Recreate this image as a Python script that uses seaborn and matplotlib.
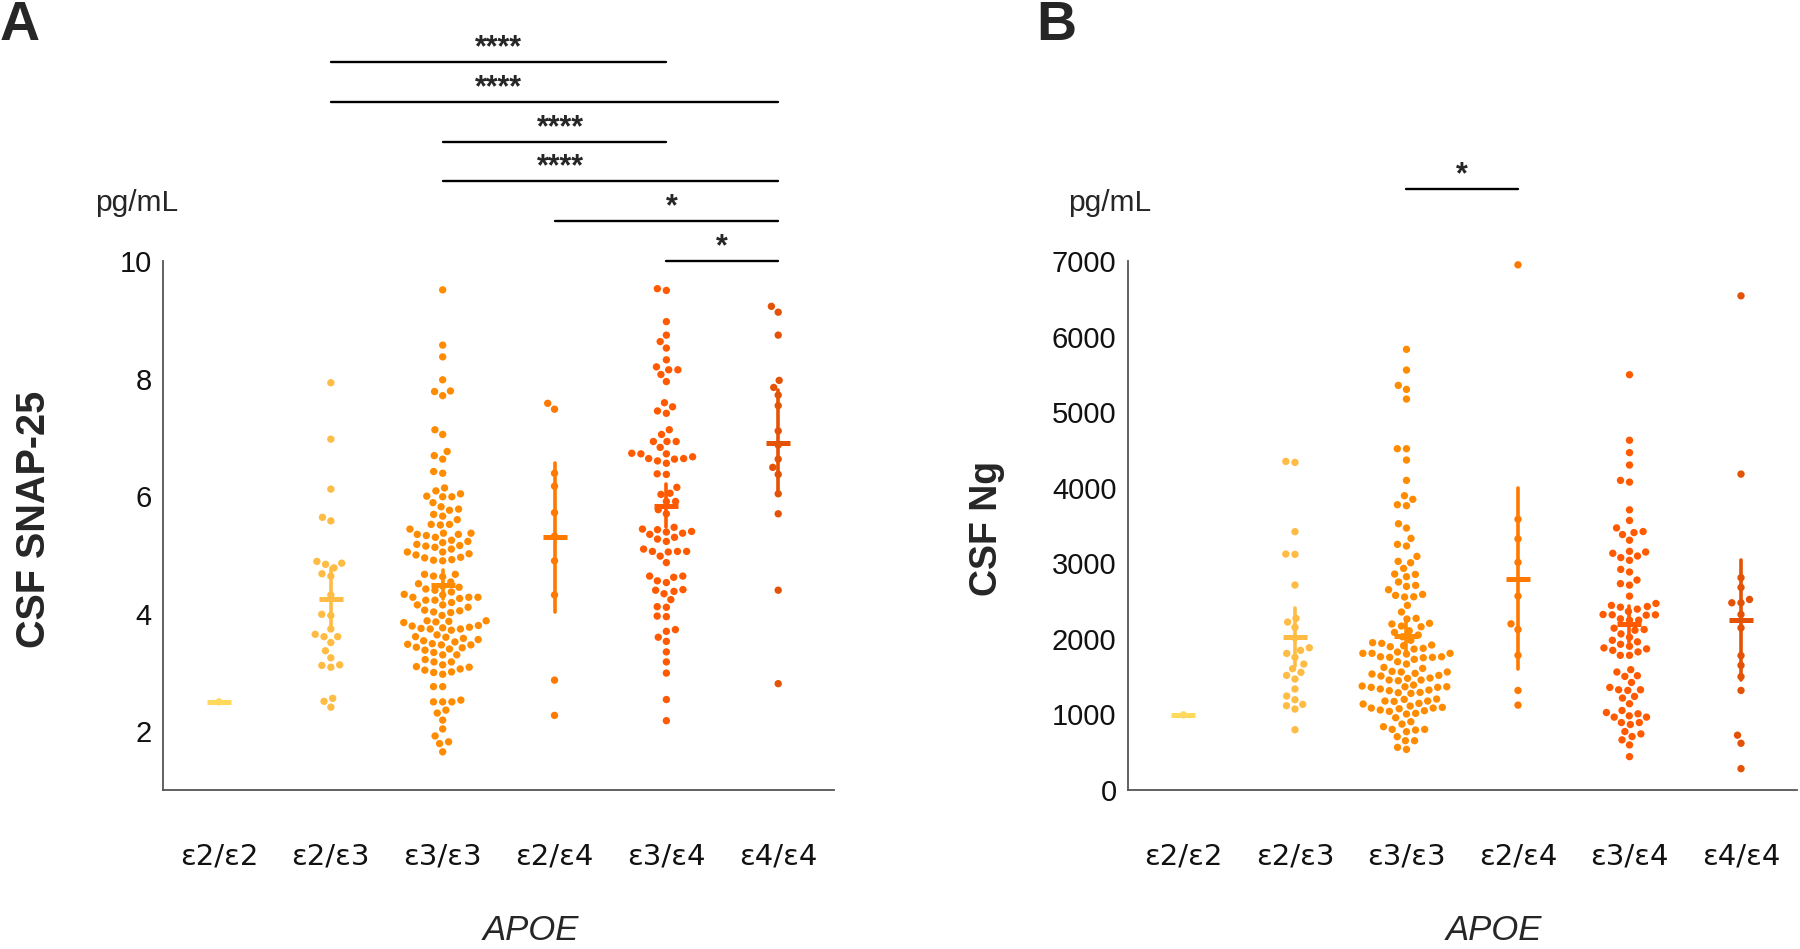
import numpy as np
import pandas as pd
import matplotlib
matplotlib.use('Agg')
import matplotlib.pyplot as plt
import seaborn as sns

sns.set_style('white')
plt.rcParams['font.family'] = ['Liberation Sans', 'DejaVu Sans']

# genotypes and colours
genos = ['ε2/ε2', 'ε2/ε3', 'ε3/ε3', 'ε2/ε4', 'ε3/ε4', 'ε4/ε4']
colors = ['#FFD95C', '#FFBC45', '#FF8C00', '#FF7800', '#FF5A00', '#E35205']

# panel A: CSF SNAP-25 (pg/mL)
snap_e22 = [2.50]
snap_e23 = [7.93, 6.97, 6.12, 5.64, 5.58, 4.89, 4.86, 4.84, 4.78, 4.68, 4.64, 4.32, 3.99,
            3.97, 3.74, 3.65, 3.61, 3.61, 3.51, 3.37, 3.25, 3.13, 3.12, 3.09, 2.56, 2.51, 2.41]
snap_e33 = [9.51, 8.57, 8.37, 7.98, 7.78, 7.79, 7.71, 7.13, 7.05, 6.76, 6.69, 6.63, 6.42, 6.39,
            6.14, 6.09, 6.04, 5.99, 5.99, 6.00, 5.89, 5.82, 5.78, 5.76, 5.69, 5.66, 5.60, 5.52,
            5.51, 5.52, 5.44, 5.37, 5.35, 5.35, 5.37, 5.33, 5.30, 5.25, 5.23, 5.21, 5.18, 5.16,
            5.15, 5.13, 5.10, 5.05, 5.05, 5.02, 5.00, 4.96, 4.95, 4.92, 4.91, 4.90, 4.67, 4.67,
            4.64, 4.63, 4.54, 4.51, 4.47, 4.45, 4.42, 4.40, 4.37, 4.33, 4.32, 4.28, 4.28, 4.28,
            4.26, 4.23, 4.23, 4.19, 4.15, 4.15, 4.11, 4.06, 4.03, 4.02, 4.05, 3.97, 3.88, 3.88,
            3.87, 3.86, 3.85, 3.80, 3.79, 3.77, 3.76, 3.74, 3.75, 3.74, 3.72, 3.64, 3.61, 3.60,
            3.58, 3.56, 3.54, 3.52, 3.49, 3.48, 3.47, 3.47, 3.43, 3.42, 3.40, 3.38, 3.34, 3.30,
            3.30, 3.22, 3.18, 3.18, 3.13, 3.10, 3.06, 3.09, 3.04, 3.01, 3.00, 2.97, 2.76, 2.76,
            2.53, 2.50, 2.50, 2.50, 2.36, 2.31, 2.19, 2.04, 1.92, 1.82, 1.79, 1.65]
snap_e24 = [7.58, 7.48, 6.39, 6.17, 5.72, 5.32, 4.90, 4.32, 2.87, 2.27]
snap_e34 = [9.53, 9.50, 8.97, 8.74, 8.63, 8.52, 8.32, 8.20, 8.15, 8.15, 8.07, 7.95, 7.59, 7.52,
            7.45, 7.41, 7.13, 7.05, 6.93, 6.93, 6.93, 6.83, 6.72, 6.72, 6.73, 6.67, 6.63, 6.64,
            6.64, 6.60, 6.56, 6.38, 6.37, 6.15, 6.05, 6.03, 5.91, 5.91, 5.77, 5.70, 5.47, 5.43,
            5.44, 5.40, 5.39, 5.37, 5.35, 5.30, 5.27, 5.23, 5.10, 5.06, 5.06, 5.06, 5.05, 4.98,
            4.87, 4.64, 4.64, 4.62, 4.56, 4.53, 4.41, 4.38, 4.40, 4.34, 4.24, 4.11, 4.12, 3.96,
            3.95, 3.73, 3.70, 3.60, 3.53, 3.35, 3.18, 2.99, 2.54, 2.18]
snap_e44 = [9.23, 9.13, 8.74, 7.97, 7.85, 7.72, 7.54, 7.11, 6.87, 6.63, 6.49, 6.37, 6.04, 5.70,
            4.40, 2.81]

# panel B: CSF Ng (pg/mL)
ng_e22 = [995]
ng_e23 = [4336, 4349, 3419, 3123, 3119, 2713, 2272, 2223, 2153, 2016, 1848, 1883, 1808, 1756,
          1667, 1606, 1517, 1557, 1469, 1337, 1244, 1195, 1116, 1134, 1072, 798]
ng_e33 = [5832, 5558, 5355, 5302, 5174, 4517, 4517, 4367, 4098, 3895, 3847, 3776, 3763, 3524,
          3467, 3330, 3251, 3229, 3092, 3026, 3008, 2933, 2858, 2854, 2823, 2753, 2708, 2695,
          2651, 2589, 2576, 2554, 2558, 2444, 2356, 2272, 2263, 2206, 2197, 2161, 2170, 2108,
          2086, 2051, 2029, 1981, 1950, 1941, 1919, 1910, 1897, 1875, 1866, 1826, 1809, 1809,
          1809, 1800, 1764, 1751, 1756, 1764, 1756, 1729, 1698, 1667, 1623, 1610, 1570, 1562,
          1562, 1544, 1535, 1517, 1509, 1482, 1478, 1456, 1456, 1447, 1390, 1376, 1367, 1367,
          1359, 1359, 1337, 1323, 1315, 1292, 1279, 1288, 1200, 1204, 1178, 1173, 1178, 1147,
          1138, 1112, 1094, 1085, 1085, 1076, 1059, 1050, 1041, 1015, 1006, 957, 873, 838, 904,
          794, 803, 772, 803, 706, 653, 653, 565, 538]
ng_e24 = [6950, 3584, 3323, 3013, 2566, 2199, 2124, 1783, 1318, 1124]
ng_e34 = [5496, 4629, 4465, 4301, 4098, 4075, 3708, 3567, 3469, 3407, 3421, 3381, 3306, 3150,
          3097, 3076, 3133, 3159, 3040, 2885, 2920, 2779, 2731, 2712, 2566, 2443, 2429, 2394,
          2420, 2469, 2363, 2319, 2323, 2319, 2314, 2266, 2248, 2248, 2142, 2124, 2115, 2066,
          2022, 1982, 1961, 1929, 1903, 1881, 1868, 1849, 1828, 1783, 1783, 1593, 1562, 1504,
          1513, 1424, 1358, 1327, 1327, 1318, 1239, 1217, 1142, 1053, 1009, 1026, 982, 965, 965,
          893, 893, 867, 774, 743, 708, 664, 597, 442]
ng_e44 = [6540, 4181, 2810, 2681, 2522, 2478, 2478, 2323, 2146, 1779, 1650, 1500, 1318, 726,
          619, 283]

# significance: (group a, group b, label, star x)
sig_a = [(4, 5, '*', 4.5), (3, 5, '*', 4.05), (2, 5, '****', 3.05), (2, 4, '****', 3.05),
         (1, 5, '****', 2.5), (1, 4, '****', 2.5)]
sig_b = [(2, 3, '*', 2.5)]


def t_ci(v):
    # mean +/- t(0.975, n-1) * SEM
    v = np.asarray(v, float)
    n = len(v)
    m = v.mean()
    if n < 2:
        return m, m
    nu = n - 1
    z = 1.959964
    t = (z + (z**3 + z) / (4 * nu) + (5 * z**5 + 16 * z**3 + 3 * z) / (96 * nu**2)
         + (3 * z**7 + 19 * z**5 + 17 * z**3 - 15 * z) / (384 * nu**3))
    h = t * v.std(ddof=1) / np.sqrt(n)
    return m - h, m + h


def panel(ax, groups, ylim, yticks, sig, sig_y0, sig_step):
    df = pd.DataFrame({'APOE': np.repeat(genos, [len(g) for g in groups]),
                       'val': np.concatenate(groups)})
    # invisible edge keeps a small gap between dots in the swarm layout
    sns.swarmplot(data=df, x='APOE', y='val', hue='APOE', order=genos, hue_order=genos,
                  palette=colors, size=5.3, linewidth=1.0, legend=False,
                  warn_thresh=1, ax=ax)
    for c in ax.collections:
        c.set_edgecolor('none')
    sns.pointplot(data=df, x='APOE', y='val', hue='APOE', order=genos, hue_order=genos,
                  palette=colors, errorbar=t_ci, markers='_', markersize=17,
                  markeredgewidth=3.6, linestyle='none', err_kws={'linewidth': 2.6},
                  legend=False, ax=ax)
    ax.set_xlim(-0.5, 5.5)
    ax.set_ylim(*ylim)
    ax.set_yticks(yticks)
    ax.set_xlabel('')
    ax.set_ylabel('')
    for s in ['top', 'right']:
        ax.spines[s].set_visible(False)
    for s in ['left', 'bottom']:
        ax.spines[s].set_color('#555555')
        ax.spines[s].set_linewidth(1.3)
    ax.tick_params(axis='both', direction='in', length=6, width=1.2, color='#555555',
                   labelsize=21, labelcolor='#111111')
    ax.tick_params(axis='x', pad=38)
    ax.tick_params(axis='y', pad=8)
    for lab in ax.get_xticklabels():
        lab.set_fontfamily('DejaVu Sans')
        lab.set_fontsize(21)
    for k, (a, b, lab, sx) in enumerate(sig):
        y = sig_y0 + k * sig_step
        ax.plot([a, b], [y, y], color='black', lw=1.7, clip_on=False)
        ax.annotate(lab, xy=(sx, y), xytext=(0, 10), textcoords='offset points',
                    ha='center', va='center', fontsize=22, fontweight='bold',
                    annotation_clip=False)


fig = plt.figure(figsize=(18, 9.49), dpi=100)
axA = fig.add_axes([0.0906, 0.1675, 0.3728, 0.5574])
axB = fig.add_axes([0.6265, 0.1675, 0.3717, 0.5574])

panel(axA, [snap_e22, snap_e23, snap_e33, snap_e24, snap_e34, snap_e44],
      (1, 10), [2, 4, 6, 8, 10], sig_a, 10.0, 0.677)
panel(axB, [ng_e22, ng_e23, ng_e33, ng_e24, ng_e34, ng_e44],
      (0, 7000), np.arange(0, 7001, 1000), sig_b, 7950, 0)

fig.text(34 / 1800, 1 - 519 / 949, 'CSF SNAP-25', rotation=90, ha='center', va='center',
         fontsize=28.5, fontweight='bold')
fig.text(987 / 1800, 1 - 528 / 949, 'CSF Ng', rotation=90, ha='center', va='center',
         fontsize=27, fontweight='bold')
fig.text(137 / 1800, 1 - 211 / 949, 'pg/mL', ha='center', va='baseline', fontsize=21.5)
fig.text(1110 / 1800, 1 - 211 / 949, 'pg/mL', ha='center', va='baseline', fontsize=21.5)
fig.text(531 / 1800, 1 - 930 / 949, 'APOE', ha='center', va='center', fontsize=25,
         style='italic')
fig.text(1494 / 1800, 1 - 930 / 949, 'APOE', ha='center', va='center', fontsize=25,
         style='italic')
fig.text(20 / 1800, 1 - 26 / 949, 'A', ha='center', va='center', fontsize=40,
         fontweight='bold')
fig.text(1056 / 1800, 1 - 26 / 949, 'B', ha='center', va='center', fontsize=40,
         fontweight='bold')

fig.savefig('out.png', dpi=100)
